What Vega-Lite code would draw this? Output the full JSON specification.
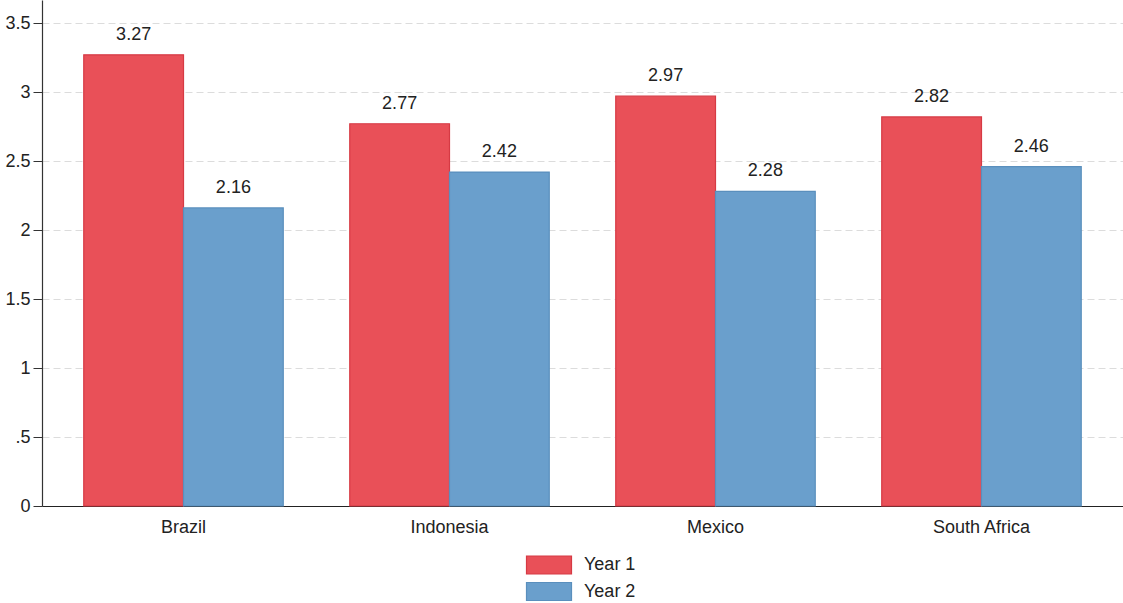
{
  "$schema": "https://vega.github.io/schema/vega-lite/v6.json",
  "width": 1081,
  "height": 506,
  "autosize": {"type": "none"},
  "padding": {"left": 42, "top": 0, "right": 0, "bottom": 97},
  "background": "white",
  "config": {
    "font": "Liberation Sans",
    "view": {"stroke": null},
    "axis": {"labelFont": "Liberation Sans", "labelFontSize": 18, "labelColor": "#222"}
  },
  "data": {
    "values": [
      {"country": "Brazil", "year": "Year 1", "value": 3.27},
      {"country": "Brazil", "year": "Year 2", "value": 2.16},
      {"country": "Indonesia", "year": "Year 1", "value": 2.77},
      {"country": "Indonesia", "year": "Year 2", "value": 2.42},
      {"country": "Mexico", "year": "Year 1", "value": 2.97},
      {"country": "Mexico", "year": "Year 2", "value": 2.28},
      {"country": "South Africa", "year": "Year 1", "value": 2.82},
      {"country": "South Africa", "year": "Year 2", "value": 2.46}
    ]
  },
  "encoding": {
    "x": {
      "field": "country", "type": "nominal", "sort": null,
      "scale": {"paddingInner": 0.25, "paddingOuter": 0.157},
      "axis": {"title": null, "labelAngle": 0, "ticks": false, "labelPadding": 12, "domainColor": "#222", "domainWidth": 1.2, "grid": false}
    },
    "xOffset": {"field": "year", "type": "nominal", "scale": {"paddingInner": 0, "paddingOuter": 0}},
    "y": {
      "field": "value", "type": "quantitative",
      "scale": {"domain": [0, 3.667], "nice": false, "zero": true},
      "axis": {
        "title": null,
        "values": [0, 0.5, 1, 1.5, 2, 2.5, 3, 3.5],
        "labelExpr": "datum.value == 0 ? '0' : replace(format(datum.value, '~g'), /^0\\./, '.')",
        "tickSize": 9, "tickColor": "#333", "labelPadding": 3,
        "domainColor": "#333", "domainWidth": 1.2,
        "grid": true, "gridColor": "#dcdcdc", "gridDash": [7, 4], "gridWidth": 1
      }
    }
  },
  "layer": [
    {
      "mark": {"type": "bar", "strokeWidth": 1.2},
      "encoding": {
        "color": {
          "field": "year", "type": "nominal",
          "scale": {"domain": ["Year 1", "Year 2"], "range": ["#E95058", "#6A9FCC"]},
          "legend": {
            "title": null, "orient": "none", "legendX": 495, "legendY": 553,
            "direction": "vertical",
            "symbolType": "M-2,-0.8H2V0.8H-2Z", "symbolSize": 506,
            "symbolStrokeWidth": 1.2, "labelFontSize": 18, "labelColor": "#222",
            "labelOffset": 23, "rowPadding": 2.5, "symbolOpacity": 1
          }
        },
        "stroke": {
          "field": "year", "type": "nominal",
          "scale": {"domain": ["Year 1", "Year 2"], "range": ["#D63A44", "#5A8FBD"]},
          "legend": null
        }
      }
    },
    {
      "mark": {"type": "text", "baseline": "bottom", "dy": -11, "fontSize": 18, "color": "#222"},
      "encoding": {
        "text": {"field": "value", "type": "quantitative", "format": ".2f"}
      }
    }
  ]
}
